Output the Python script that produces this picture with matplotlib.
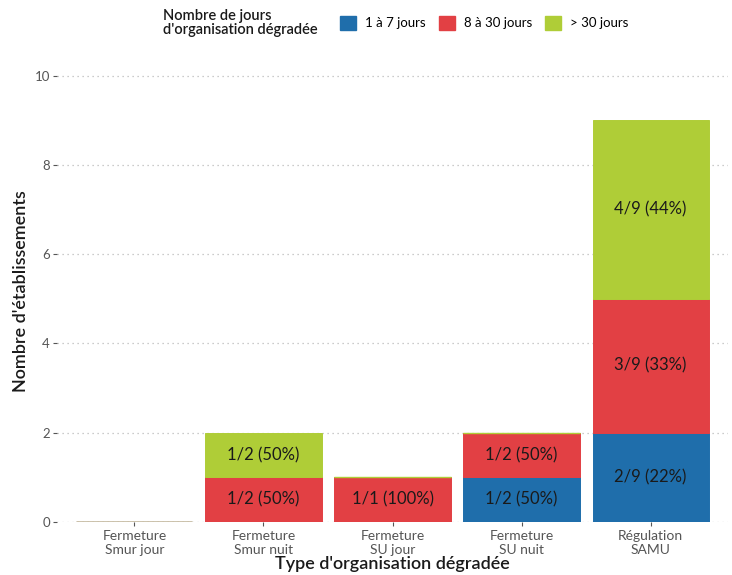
import matplotlib
matplotlib.use("Agg")
import matplotlib.pyplot as plt
from matplotlib.patches import Patch
import numpy as np

plt.rcParams["font.family"] = ["Lato", "DejaVu Sans"]

categories = ["Fermeture\nSmur jour", "Fermeture\nSmur nuit", "Fermeture\nSU jour",
              "Fermeture\nSU nuit", "Régulation\nSAMU"]
series_names = ["1 à 7 jours", "8 à 30 jours", "> 30 jours"]
short_days = [0, 0, 0, 1, 2]
mid_days = [0, 1, 1, 1, 3]
long_days = [0, 1, 0, 0, 4]
colors = ["#1f6eab", "#e24044", "#afcd37"]

series = [short_days, mid_days, long_days]
totals = np.sum(series, axis=0)

fig = plt.figure(figsize=(7.32, 5.75), dpi=100)
ax = fig.add_axes([57 / 732, 1 - 522 / 575, 671 / 732, (522 - 60) / 575])

x = np.arange(len(categories))
bottom = np.zeros(len(categories))
for vals, name, col in zip(series, series_names, colors):
    vals = np.asarray(vals, dtype=float)
    ax.bar(x, vals, width=0.9, bottom=bottom, color=col, edgecolor=col,
           linewidth=0.7, label=name, zorder=3)
    # zero-height segments still show as a thin line, like in ggplot
    zero = vals == 0
    ax.hlines(bottom[zero], x[zero] - 0.45, x[zero] + 0.45, color=col,
              linewidth=1.0, zorder=3)
    for xi, v, b, t in zip(x, vals, bottom, totals):
        if v > 0:
            ax.text(xi, b + v / 2, f"{int(v)}/{int(t)} ({round(100 * v / t):.0f}%)",
                    ha="center", va="center", fontsize=12, color="#1a1a1a", zorder=4)
    bottom += vals

ax.set_xlim(-0.6, len(categories) - 0.4)
ax.set_ylim(0, 10.35)
ax.set_yticks([0, 2, 4, 6, 8, 10])
ax.set_xticks(x)
ax.set_xticklabels(categories, fontsize=10, color="#555555", linespacing=1.15)
ax.tick_params(axis="y", labelsize=9.5, labelcolor="#555555", color="#555555",
               length=3, width=0.8, pad=2)
ax.tick_params(axis="x", color="#555555", length=3, width=0.8, pad=3)
ax.grid(axis="y", linestyle=(0, (1, 3)), color="#bbbbbb", linewidth=0.9, zorder=0)
for s in ax.spines.values():
    s.set_visible(False)

ax.set_xlabel("Type d'organisation dégradée", fontsize=13, fontweight="semibold",
              color="#1a1a1a", labelpad=0)
ax.set_ylabel("Nombre d'établissements", fontsize=13, fontweight="semibold",
              color="#1a1a1a", labelpad=4)

fig.text(163 / 732, 1 - 23 / 575, "Nombre de jours\nd'organisation dégradée",
         ha="left", va="center", fontsize=10.5, fontweight="semibold",
         color="#1a1a1a", linespacing=1.05)
handles = [Patch(facecolor=c, edgecolor=c) for c in colors]
fig.legend(handles, series_names, ncol=3, loc="center left",
           bbox_to_anchor=(340 / 732, 1 - 23 / 575), frameon=False, fontsize=9.5,
           handlelength=1.2, handleheight=1.3, handletextpad=0.7, columnspacing=1.0,
           borderaxespad=0, borderpad=0)

fig.savefig("out.png", dpi=100)
